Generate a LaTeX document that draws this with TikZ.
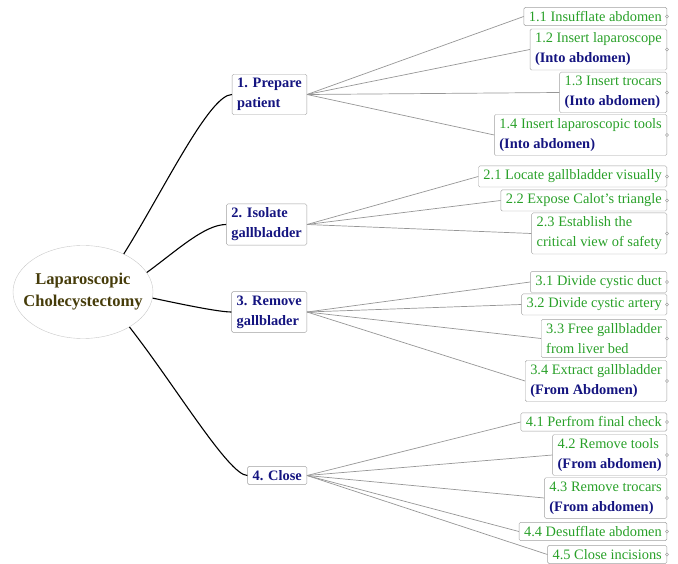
\documentclass[tikz,border=0pt]{standalone}
\usepackage{fontspec}
\setmainfont{Liberation Serif}
\usetikzlibrary{shapes.geometric}
\definecolor{navy}{RGB}{20,20,128}
\definecolor{leafgreen}{RGB}{40,160,40}
\definecolor{rootolive}{RGB}{70,60,10}
\definecolor{rootgray}{RGB}{200,200,200}
\definecolor{boxgray}{RGB}{160,160,160}
\definecolor{edgegray}{RGB}{150,150,150}
\newcommand{\placenote}[1]{{\color{navy}\bfseries #1}}
\tikzstyle{root} = [draw=rootgray, ellipse, minimum width=140pt, minimum height=93pt, inner xsep=-11pt, inner ysep=0pt, align=center, text=rootolive, font=\fontsize{16.5}{22}\selectfont\bfseries]
\tikzstyle{stage} = [draw=boxgray, rectangle, rounded corners=1.5pt, anchor=east, align=left, inner xsep=5pt, inner ysep=4pt, text=navy, font=\fontsize{14.4}{20}\selectfont\bfseries]
\tikzstyle{task} = [draw=boxgray, rectangle, rounded corners=1.5pt, anchor=east, align=left, inner xsep=5pt, inner ysep=4pt, text=leafgreen, font=\fontsize{14.4}{20}\selectfont]
\tikzstyle{branch} = [draw=black, line width=1.1pt]
\tikzstyle{twig} = [draw=edgegray, line width=0.7pt]

\begin{document}
\begin{tikzpicture}[x=1pt, y=-1pt]
        \useasboundingbox (0,0) rectangle (678,564);
        % central topic
        \node [root] (root) at (83,292) {Laparoscopic\\Cholecystectomy};
        % four stages
        \node [stage] (S1) at (307,94.5) {1. Prepare\\patient};
        \node [stage] (S2) at (307,224.5) {2. Isolate\\gallbladder};
        \node [stage] (S3) at (307,312) {3. Remove\\gallblader};
        \node [stage] (S4) at (307,475.5) {4. Close};
        % tasks of stage 1
        \node [task] (T11) at (667,16.5) {1.1 Insufflate abdomen};
        \node [task] (T12) at (667,49.5) {1.2 Insert laparoscope\\\placenote{(Into abdomen)}};
        \node [task] (T13) at (667,92.5) {1.3 Insert trocars\\\placenote{(Into abdomen)}};
        \node [task] (T14) at (667,135) {1.4 Insert laparoscopic tools\\\placenote{(Into abdomen)}};
        % tasks of stage 2
        \node [task] (T21) at (667,176.5) {2.1 Locate gallbladder visually};
        \node [task] (T22) at (667,200.5) {2.2 Expose Calot’s triangle};
        \node [task] (T23) at (667,233.5) {2.3 Establish the\\critical view of safety};
        % tasks of stage 3
        \node [task] (T31) at (667,282) {3.1 Divide cystic duct};
        \node [task] (T32) at (667,304.5) {3.2 Divide cystic artery};
        \node [task] (T33) at (667,338.5) {3.3 Free gallbladder\\from liver bed};
        \node [task] (T34) at (667,381) {3.4 Extract gallbladder\\\placenote{(From Abdomen)}};
        % tasks of stage 4
        \node [task] (T41) at (667,422) {4.1 Perfrom final check};
        \node [task] (T42) at (667,455) {4.2 Remove tools\\\placenote{(From abdomen)}};
        \node [task] (T43) at (667,498) {4.3 Remove trocars\\\placenote{(From abdomen)}};
        \node [task] (T44) at (667,531.5) {4.4 Desufflate abdomen};
        \node [task] (T45) at (667,554.5) {4.5 Close incisions};
        % root to stages
        \draw [branch] (root.43) to[out=58, in=180, in looseness=0.3] (S1.west);
        \draw [branch] (root.17) to[out=36, in=180, in looseness=0.6] (S2.west);
        \draw [branch] (root.-5) to[out=-12, in=180, in looseness=0.4] (S3.west);
        \draw [branch] (root.-37) to[out=-52, in=180, in looseness=0.25] (S4.west);
        % stages to tasks
        \foreach \t in {T11,T12,T13,T14} \draw [twig] (S1.east) -- (\t.west);
        \foreach \t in {T21,T22,T23} \draw [twig] (S2.east) -- (\t.west);
        \foreach \t in {T31,T32,T33,T34} \draw [twig] (S3.east) -- (\t.west);
        \foreach \t in {T41,T42,T43,T44,T45} \draw [twig] (S4.east) -- (\t.west);
        % small knobs on the task boxes
        \foreach \t in {T11,T12,T13,T14,T21,T22,T23,T31,T32,T33,T34,T41,T42,T43,T44,T45}
            \draw [draw=boxgray, fill=white, line width=0.5pt] (\t.east) circle (1.5pt);
\end{tikzpicture}
\end{document}
